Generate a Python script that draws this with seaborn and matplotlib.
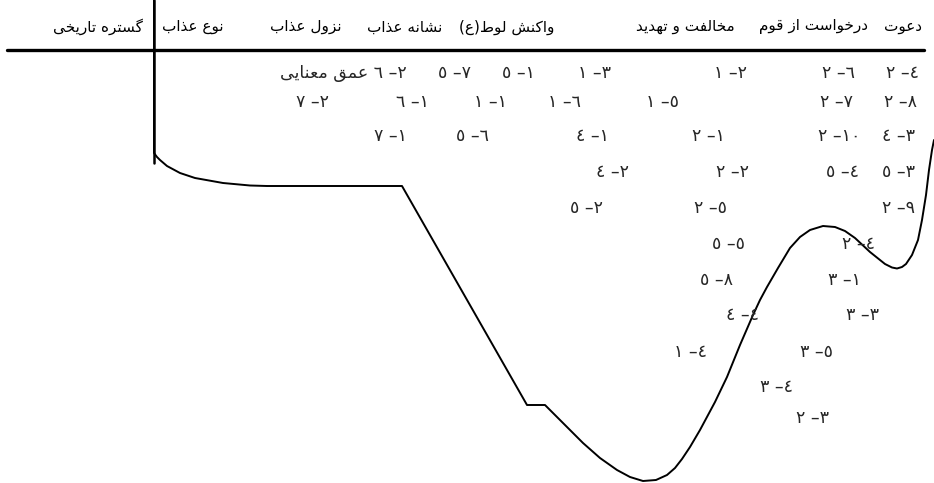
import pandas as pd
import seaborn as sns
import matplotlib.pyplot as plt
from matplotlib import font_manager
from matplotlib.ft2font import FT2Font

# column headers (logical persian text) and where each one ends on the right
headers = ["دعوت", "درخواست از قوم", "مخالفت و تهدید", "واکنش لوط(ع)",
           "نشانۀ عذاب", "نزول عذاب", "نوع عذاب", "گستره تاریخی"]
header_right = [922, 868, 735, 554, 442, 342, 224, 143]

# verse references, written in the order they appear on the page (left to right)
refs = ["عمق معنایی ٦ –٢", "٥ –٧", "٥ –١", "١ –٣", "١ –٢", "٢ –٦", "٢ –٤",
        "٧ –٢", "٦ –١", "١ –١", "١ –٦", "١ –٥", "٢ –٧", "٢ –٨",
        "٧ –١", "٥ –٦", "٤ –١", "٢ –١", "٢ –١٠", "٤ –٣",
        "٤ –٢", "٢ –٢", "٥ –٤", "٥ –٣",
        "٥ –٢", "٢ –٥", "٢ –٩",
        "٥ –٥", "٢ –٤",
        "٥ –٨", "٣ –١",
        "٤ –٤", "٣ –٣",
        "١ –٤", "٣ –٥",
        "٣ –٤",
        "٢ –٣"]
ref_x = [345, 455, 518, 595, 730, 838, 902,
         313, 413, 490, 565, 663, 836, 901,
         390, 473, 593, 709, 839, 899,
         612, 732, 843, 899,
         587, 710, 899,
         729, 858,
         717, 844,
         743, 863,
         690, 817,
         777,
         813]
ref_y = [73] * 7 + [102] * 7 + [136] * 6 + [172] * 4 + [208] * 3 + [244] * 2 + \
        [280] * 2 + [315] * 2 + [352] * 2 + [387] + [418]

# the path drawn under the table
path_x = [154, 154, 157, 160, 167, 180, 195, 223, 250, 267, 402, 527, 545, 560, 572,
          583, 600, 617, 630, 643, 656, 667, 675, 682, 690, 700, 715, 727, 740, 753,
          760, 767, 778, 790, 800, 810, 823, 835, 845, 855, 870, 885, 892, 897, 902,
          906, 912, 918, 922, 926, 929, 932, 934]
path_y = [0, 153, 157, 160, 166, 173, 178, 183, 185.5, 186, 186, 405, 405, 420, 432,
          443, 458, 470, 477, 481, 480, 475, 468, 459, 447, 430, 402, 377, 345, 315,
          300, 287, 268, 248, 237, 230, 226, 227, 231, 238, 252, 264, 267.5, 268.5, 267,
          264, 255, 240, 220, 195, 170, 150, 140]

# contextual forms: isolated, final, initial, medial
FORMS = {
    'ا': ('\uFE8D', '\uFE8E', None, None),
    'ب': ('\uFE8F', '\uFE90', '\uFE91', '\uFE92'),
    'ت': ('\uFE95', '\uFE96', '\uFE97', '\uFE98'),
    'خ': ('\uFEA5', '\uFEA6', '\uFEA7', '\uFEA8'),
    'د': ('\uFEA9', '\uFEAA', None, None),
    'ذ': ('\uFEAB', '\uFEAC', None, None),
    'ر': ('\uFEAD', '\uFEAE', None, None),
    'ز': ('\uFEAF', '\uFEB0', None, None),
    'س': ('\uFEB1', '\uFEB2', '\uFEB3', '\uFEB4'),
    'ش': ('\uFEB5', '\uFEB6', '\uFEB7', '\uFEB8'),
    'ط': ('\uFEC1', '\uFEC2', '\uFEC3', '\uFEC4'),
    'ع': ('\uFEC9', '\uFECA', '\uFECB', '\uFECC'),
    'ف': ('\uFED1', '\uFED2', '\uFED3', '\uFED4'),
    'ق': ('\uFED5', '\uFED6', '\uFED7', '\uFED8'),
    'ل': ('\uFEDD', '\uFEDE', '\uFEDF', '\uFEE0'),
    'م': ('\uFEE1', '\uFEE2', '\uFEE3', '\uFEE4'),
    'ن': ('\uFEE5', '\uFEE6', '\uFEE7', '\uFEE8'),
    'ه': ('\uFEE9', '\uFEEA', '\uFEEB', '\uFEEC'),
    'و': ('\uFEED', '\uFEEE', None, None),
    'ی': ('\uFBFC', '\uFBFD', '\uFBFE', '\uFBFF'),
    'ک': ('\uFB8E', '\uFB8F', '\uFB90', '\uFB91'),
    'گ': ('\uFB92', '\uFB93', '\uFB94', '\uFB95'),
    'ۀ': ('\uFBA4', '\uFBA5', None, None),
}

font_path = font_manager.findfont("DejaVu Sans")
charmap = FT2Font(font_path).get_charmap()


def shape(word):
    out = []
    for i, c in enumerate(word):
        if c not in FORMS:
            out.append(c)
            continue
        prev = word[i - 1] if i > 0 else ''
        nxt = word[i + 1] if i + 1 < len(word) else ''
        jp = prev in FORMS and FORMS[prev][2] is not None
        jn = nxt in FORMS and FORMS[c][2] is not None
        f = FORMS[c]
        g = f[3] if (jp and jn) else f[1] if jp else f[2] if jn else f[0]
        if ord(g) not in charmap:
            g = {'ۀ': FORMS['ه'][1] if jp else FORMS['ه'][0]}.get(c, c)
        out.append(g)
    return ''.join(out)


def rtl(s):
    vis = shape(s)[::-1]
    return vis.translate(str.maketrans('()', ')('))


sns.set_style("white")
plt.rcParams['font.family'] = ['DejaVu Sans']

fig = plt.figure(figsize=(9.34, 4.83), dpi=100)
ax = fig.add_axes([0, 0, 1, 1])

path = pd.DataFrame({'x': path_x, 'y': path_y})
sns.lineplot(data=path, x='x', y='y', sort=False, color='black', linewidth=1.4,
             ax=ax, estimator=None)

ax.plot([154, 154], [0, 163], color='black', linewidth=1.8)
ax.plot([7, 924], [50, 50], color='black', linewidth=2.4)

for h, xr in zip(headers, header_right):
    ax.text(xr, 27, rtl(h), ha='right', va='center', fontsize=11, color='black')

for t, x, y in zip(refs, ref_x, ref_y):
    if any(ch in FORMS for ch in t):
        words = t.split(' ')
        label = rtl(' '.join(words[:2])) + ' ' + ' '.join(words[2:])
        ax.text(x + 62, y, label, ha='right', va='center', fontsize=12.5)
    else:
        ax.text(x, y, t, ha='center', va='center', fontsize=12.5)

ax.set_xlim(0, 934)
ax.set_ylim(483, 0)
ax.axis('off')

fig.savefig('out.png', dpi=100)
